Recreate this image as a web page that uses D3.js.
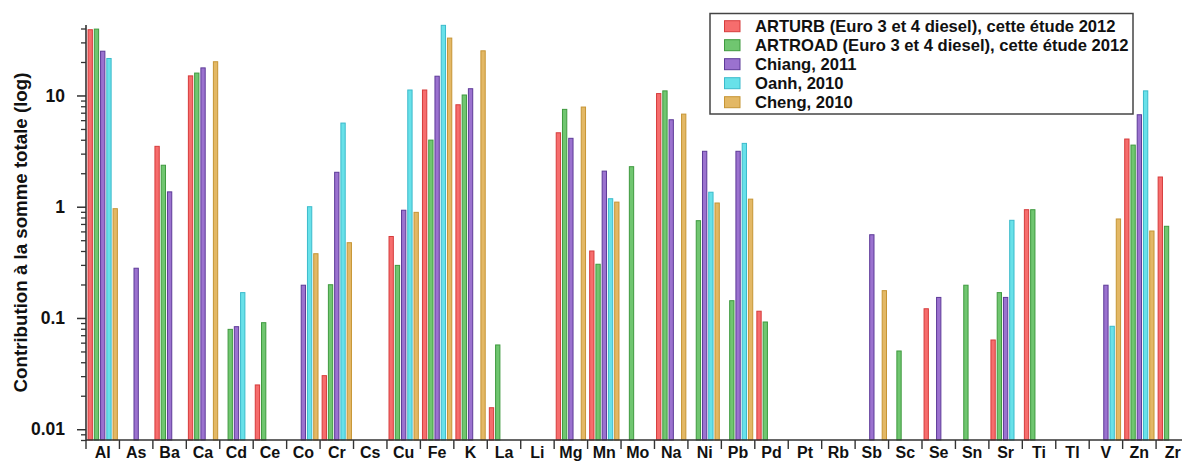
<!DOCTYPE html>
<html>
<head>
<meta charset="utf-8">
<script src="https://cdn.jsdelivr.net/npm/d3@7"></script>
<style>
  html, body { margin: 0; padding: 0; background: #fff; overflow: hidden; }
  svg { display: block; font-family: "Liberation Sans", Arial, sans-serif; }
</style>
</head>
<body>
<svg id="chart" width="1182" height="462"></svg>
<script>
const categories = ["Al","As","Ba","Ca","Cd","Ce","Co","Cr","Cs","Cu","Fe","K","La","Li","Mg","Mn","Mo","Na","Ni","Pb","Pd","Pt","Rb","Sb","Sc","Se","Sn","Sr","Ti","Tl","V","Zn","Zr"];

const seriesNames = [
  "ARTURB (Euro 3 et 4 diesel), cette étude 2012",
  "ARTROAD (Euro 3 et 4 diesel), cette étude 2012",
  "Chiang, 2011",
  "Oanh, 2010",
  "Cheng, 2010"
];

const arturb  = [39.0, null, 3.49, 15.0, null, 0.025, null, 0.0303, null, 0.54, 11.2, 8.25, 0.0156, null, 4.62, 0.40, null, 10.4, null, null, 0.115, null, null, null, null, 0.121, null, 0.0634, 0.94, null, null, 4.06, 1.85];
const artroad = [39.5, null, 2.36, 15.9, 0.079, 0.0907, null, 0.199, null, 0.297, 3.97, 10.1, 0.0572, null, 7.5, 0.304, 2.29, 11.0, 0.749, 0.143, 0.092, null, null, null, 0.0505, null, 0.197, 0.169, 0.94, null, null, 3.58, 0.667];
const chiang  = [25.0, 0.28, 1.36, 17.7, 0.0835, null, 0.197, 2.04, null, 0.93, 14.9, 11.5, null, null, 4.12, 2.09, null, 6.05, 3.15, 3.15, null, null, null, 0.56, null, 0.153, null, 0.153, null, null, 0.197, 6.71, null];
const oanh    = [21.5, null, null, null, 0.169, null, 1.0, 5.65, null, 11.2, 42.7, null, null, null, null, 1.18, null, null, 1.35, 3.71, null, null, null, null, null, null, null, 0.755, null, null, 0.0842, 11.0, null];
const cheng   = [0.96, null, null, 20.1, null, null, 0.378, 0.475, null, 0.89, 32.8, 25.2, null, null, 7.87, 1.1, null, 6.8, 1.08, 1.17, null, null, null, 0.176, null, null, null, null, null, null, 0.776, 0.605, null];

const yTickValues = [0.01, 0.1, 1, 10];
const yTickLabels = ["0.01", "0.1", "1", "10"];
const yTitle = "Contribution à la somme totale (log)";

const seriesValues = [arturb, artroad, chiang, oanh, cheng];
const fills   = ["#f66d6d", "#70c670", "#9b72cf", "#68e1e9", "#e3b865"];
const strokes = ["#d63c3c", "#3f9a3f", "#5d3a98", "#3bbacb", "#c69535"];

const svg = d3.select("#chart");
const plotLeft = 86, plotBottom = 440, plotTop = 25, catW = 33.44;

const x = d3.scaleBand().domain(categories).range([plotLeft, plotLeft + catW * categories.length]).paddingInner(0).paddingOuter(0);
const xs = d3.scaleBand().domain(d3.range(seriesNames.length)).range([0, x.bandwidth()]).paddingInner(0.15).paddingOuter(0.25);
const y = d3.scaleLog().domain([0.008, 43]).range([plotBottom, plotTop]);

// bars
const bars = [];
seriesValues.forEach((arr, s) => arr.forEach((v, i) => { if (v != null) bars.push({cat: categories[i], s, v}); }));
svg.append("g").selectAll("rect").data(bars).join("rect")
  .attr("x", d => x(d.cat) + xs(d.s) + 0.5)
  .attr("width", xs.bandwidth() - 1)
  .attr("y", d => y(d.v))
  .attr("height", d => plotBottom - y(d.v))
  .attr("fill", d => fills[d.s])
  .attr("stroke", d => strokes[d.s])
  .attr("stroke-width", 1);

// y axis
const minor = [];
for (let e = -3; e <= 1; e++) for (let m = 1; m <= 9; m++) {
  const v = +(m * Math.pow(10, e)).toPrecision(6);
  if (v >= 0.008 && v <= 43) minor.push(v);
}
const yMinor = d3.axisLeft(y).tickValues(minor.filter(v => !yTickValues.includes(v))).tickSize(5).tickFormat("");
const gMinor = svg.append("g").attr("transform", `translate(${plotLeft},0)`).call(yMinor);
gMinor.select(".domain").remove();
gMinor.selectAll("line").attr("stroke", "#333").attr("stroke-width", 1.3);

const yAxis = d3.axisLeft(y).tickValues(yTickValues).tickSize(9).tickPadding(12)
  .tickFormat((d, i) => yTickLabels[i]);
const gy = svg.append("g").attr("transform", `translate(${plotLeft},0)`).call(yAxis);
gy.select(".domain").remove();
gy.selectAll("line").attr("stroke", "#333").attr("stroke-width", 1.5);
gy.selectAll("text").attr("font-size", "17.5px").attr("font-weight", "bold").attr("fill", "#111")
  .attr("font-family", "'Liberation Sans', Arial, sans-serif");

svg.append("line").attr("x1", plotLeft).attr("x2", plotLeft).attr("y1", plotTop).attr("y2", plotBottom + 1)
  .attr("stroke", "#333").attr("stroke-width", 1.6);

// x axis
svg.append("line").attr("x1", plotLeft).attr("x2", 1182).attr("y1", plotBottom).attr("y2", plotBottom)
  .attr("stroke", "#333").attr("stroke-width", 1.6);
const bounds = categories.map(c => x(c));
svg.append("g").selectAll("line").data(bounds).join("line")
  .attr("x1", d => d).attr("x2", d => d).attr("y1", plotBottom).attr("y2", plotBottom + 9)
  .attr("stroke", "#333").attr("stroke-width", 1.4);
svg.append("g").selectAll("text").data(categories).join("text")
  .attr("x", d => x(d) + x.bandwidth() / 2)
  .attr("y", 458)
  .attr("text-anchor", "middle")
  .attr("font-size", "16px").attr("font-weight", "bold").attr("fill", "#111")
  .text(d => d);

// y title
svg.append("text")
  .attr("transform", `translate(27,232.5) rotate(-90)`)
  .attr("text-anchor", "middle")
  .attr("font-size", "18.7px").attr("font-weight", "bold").attr("fill", "#111")
  .text(yTitle);

// legend
const lg = svg.append("g");
lg.append("rect").attr("x", 710).attr("y", 13.5).attr("width", 423).attr("height", 100.5)
  .attr("fill", "#fff").attr("stroke", "#444").attr("stroke-width", 1.5);
seriesNames.forEach((name, i) => {
  const cy = 26.2 + i * 19;
  lg.append("rect").attr("x", 724.5).attr("y", cy - 5.5).attr("width", 15.5).attr("height", 11)
    .attr("fill", fills[i]).attr("stroke", strokes[i]).attr("stroke-width", 1);
  lg.append("text").attr("x", 755).attr("y", cy + 6)
    .attr("font-size", "16.6px").attr("font-weight", "bold").attr("fill", "#111")
    .text(name);
});
</script>
</body>
</html>
